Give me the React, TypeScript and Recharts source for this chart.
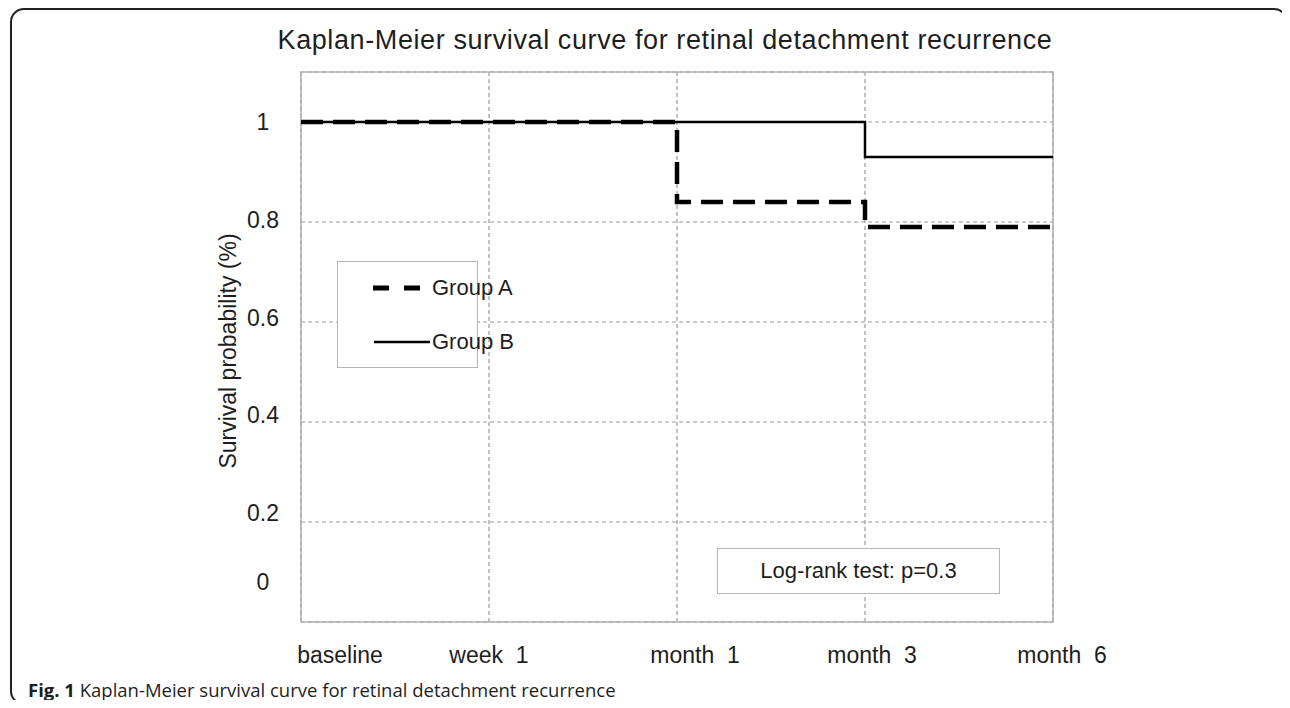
import { LineChart, Line, XAxis, YAxis, CartesianGrid, ReferenceArea } from "recharts";

const timepoints = ["baseline", "week 1", "month 1", "month 3", "month 6"];
const groupA = [1, 1, 0.84, 0.79, 0.79];
const groupB = [1, 1, 1, 0.93, 0.93];
const yTicks = [0, 0.2, 0.4, 0.6, 0.8, 1];

const data = timepoints.map((t, i) => ({ t, a: groupA[i], b: groupB[i] }));

const FONT = "'Liberation Sans', Arial, sans-serif";
const TEXT = "#1e1e1e";

// label nudges so the ticks sit where the source figure put them
const xShift = [39, 0, 18, 7, 9];
const yShift: Record<number, number> = { 0: -40, 0.2: -9, 0.4: -7, 0.6: -4, 0.8: -2, 1: 0 };

function XTick({ x, y, payload, index }: any) {
  return (
    <text x={x + (xShift[index] ?? 0)} y={y + 33} textAnchor="middle" fontFamily={FONT} fontSize={23} fill={TEXT} style={{ whiteSpace: "pre" }}>
      {String(payload.value).replace(" ", "  ")}
    </text>
  );
}

function YTick({ y, payload }: any) {
  return (
    <text x={263} y={y + (yShift[payload.value] ?? 0)} dy={8} textAnchor="middle" fontFamily={FONT} fontSize={23} fill={TEXT}>
      {payload.value}
    </text>
  );
}

function LegendBox() {
  return (
    <div style={{ position: "absolute", left: 337, top: 261, width: 141, height: 107, boxSizing: "border-box", border: "1.5px solid #b5b5b5", background: "#fff", fontFamily: FONT, fontSize: 22, color: TEXT, whiteSpace: "nowrap" }}>
      <div style={{ display: "flex", alignItems: "center", height: 26, marginTop: 13 }}>
        <svg width={94} height={10} style={{ flex: "none" }}>
          <line x1={35} x2={85} y1={5} y2={5} stroke="#000" strokeWidth={5} strokeDasharray="16 15" />
        </svg>
        <span>Group A</span>
      </div>
      <div style={{ display: "flex", alignItems: "center", height: 26, marginTop: 28 }}>
        <svg width={94} height={10} style={{ flex: "none" }}>
          <line x1={36} x2={92} y1={5} y2={5} stroke="#000" strokeWidth={2.5} />
        </svg>
        <span>Group B</span>
      </div>
    </div>
  );
}

export default function App() {
  return (
    <div style={{ position: "relative", margin: -8, width: 1290, height: 708, background: "#fff", overflow: "hidden" }}>
      <div style={{ position: "absolute", left: 10, top: 8, width: 1278, height: 697, border: "2px solid #222", borderRadius: 14, boxSizing: "border-box" }} />
      <div style={{ position: "absolute", left: 0, width: 1330, top: 25, textAlign: "center", fontFamily: FONT, fontSize: 27, letterSpacing: 0.6, color: TEXT }}>
        Kaplan-Meier survival curve for retinal detachment recurrence
      </div>
      <div style={{ position: "absolute", left: 228, top: 351, transform: "translate(-50%, -50%) rotate(-90deg)", whiteSpace: "nowrap", fontFamily: FONT, fontSize: 23, color: TEXT }}>
        Survival probability (%)
      </div>
      <LineChart width={1290} height={708} data={data} margin={{ top: 72, right: 237, bottom: 46, left: 241 }} style={{ position: "absolute", left: 0, top: 0 }}>
        <CartesianGrid stroke="#9a9a9a" strokeDasharray="4 3" strokeWidth={1.2} />
        <XAxis dataKey="t" height={40} axisLine={false} tickLine={false} tick={<XTick />} interval={0} />
        <YAxis width={60} domain={[0, 1.1]} ticks={yTicks} axisLine={false} tickLine={false} tick={<YTick />} />
        <ReferenceArea x1="baseline" x2="month 6" y1={0} y2={1.1} fill="none" stroke="#b0b0b0" strokeWidth={1.5} fillOpacity={0} />
        <Line dataKey="a" name="Group A" type="stepAfter" stroke="#000" strokeWidth={4.5} strokeDasharray="22 10" dot={false} activeDot={false} isAnimationActive={false} />
        <Line dataKey="b" name="Group B" type="stepAfter" stroke="#000" strokeWidth={2.5} dot={false} activeDot={false} isAnimationActive={false} />
      </LineChart>
      <LegendBox />
      <div style={{ position: "absolute", left: 717, top: 548, width: 283, height: 46, border: "1.5px solid #b5b5b5", boxSizing: "border-box", background: "#fff", display: "flex", alignItems: "center", justifyContent: "center", fontFamily: FONT, fontSize: 22, color: TEXT }}>
        Log-rank test: p=0.3
      </div>
      <div style={{ position: "absolute", left: 28, top: 677, fontFamily: "'Open Sans', 'Noto Sans', sans-serif", fontSize: 18.5, color: TEXT, whiteSpace: "nowrap" }}>
        <b>Fig. 1</b> Kaplan-Meier survival curve for retinal detachment recurrence
      </div>
    </div>
  );
}
